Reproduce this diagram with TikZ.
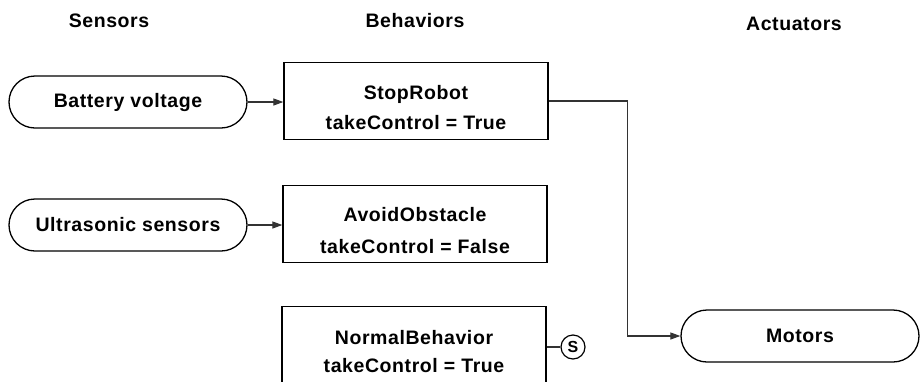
\documentclass[tikz,border=0pt]{standalone}
\usepackage{fontspec}
\setmainfont{Liberation Sans}[LetterSpace=3]
\usepackage{tikz}
\usetikzlibrary{shapes.misc,arrows.meta}
\newcommand{\topgap}{\rule{0pt}{27pt}}

\begin{document}
\begin{tikzpicture}[x=1pt,y=-1pt,font=\fontsize{19.5}{23}\selectfont\bfseries]
		\useasboundingbox (0,0) rectangle (921,381);
		\tikzset{sensor/.style={draw,line width=1.3pt,rounded rectangle,minimum width=238pt,minimum height=52pt,inner sep=0pt}} %inputs and outputs
		\tikzset{behavior/.style={draw,line width=1.3pt,rectangle,minimum width=264pt,minimum height=77pt,align=center,inner sep=0pt}}
		\tikzset{link/.style={draw=black!80,line width=1.2pt,-{Triangle[length=10pt,width=7pt]}}}
		\node (sensors) at (109,21) {Sensors}; %column heads
		\node (behaviors) at (415,21) {Behaviors};
		\node (actuators) at (794,24) {Actuators};
		\node[sensor] (battery) at (128,102) {Battery voltage}; %sensors
		\node[sensor] (ultrasonic) at (128,225) {Ultrasonic sensors};
		\node[behavior] (stop) at (416,101) {\topgap StopRobot\\[7pt]takeControl = True}; %behaviors
		\node[behavior] (avoid) at (415,224) {\topgap AvoidObstacle\\[9pt]takeControl = False};
		\node[behavior] (normal) at (414,345) {\topgap NormalBehavior\\[5pt]takeControl = True};
		\node[sensor] (motors) at (800,336) {Motors}; %actuator
		\node[draw,line width=1.2pt,circle,minimum size=24pt,inner sep=0pt,font=\fontsize{16}{16}\selectfont\bfseries] (supp) at (573,347) {S}; %suppressor
		\draw[link] (battery.east) -- (battery.east -| stop.west);
		\draw[link] (ultrasonic.east) -- (ultrasonic.east -| avoid.west);
		\draw[link] (stop.east) -- ++(79,0) |- (motors.west);
		\draw[draw=black!80,line width=1.2pt] (normal.east |- supp.west) -- (supp.west);
	\end{tikzpicture}
\end{document}
